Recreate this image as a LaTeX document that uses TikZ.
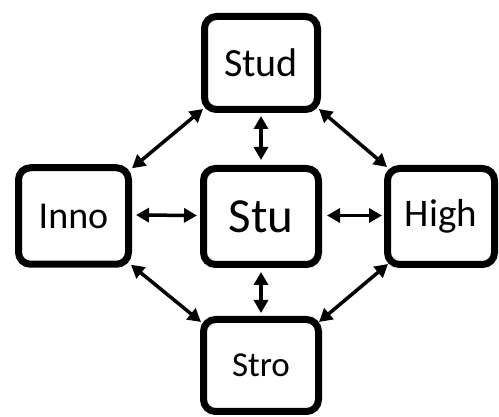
\documentclass[tikz,border=0pt]{standalone}
\usepackage{fontspec}
\setmainfont{Carlito}
\usetikzlibrary{arrows.meta}
\tikzset{
  box/.style={draw=black, line width=7pt, rounded corners=12pt, fill=white,
    inner sep=0pt, align=center},
  link/.style={line width=3.5pt,
    {Triangle[length=13pt,width=14pt]}-{Triangle[length=13pt,width=14pt]}}
}
\begin{document}
\begin{tikzpicture}[x=1pt,y=1pt]
  \useasboundingbox (0,0) rectangle (499,417);

  % the five boxes
  \node[box, minimum width=113pt, minimum height=93pt, font=\fontsize{40}{40}\selectfont]
    (stud) at (261,354) {Stud};
  \node[box, minimum width=110pt, minimum height=96.5pt, font=\fontsize{38}{38}\selectfont]
    (inno) at (73.5,201) {Inno};
  \node[box, minimum width=115pt, minimum height=96pt, font=\fontsize{49}{49}\selectfont]
    (stu) at (261,200.5) {Stu};
  \node[box, minimum width=107pt, minimum height=96pt, font=\fontsize{39}{39}\selectfont]
    (high) at (441,200.5) {High};
  \node[box, minimum width=115pt, minimum height=92pt, font=\fontsize{35}{35}\selectfont]
    (stro) at (261,51.5) {Stro};

  % links to the centre box
  \draw[link, shorten <=3pt, shorten >=5pt] (stud.south) -- (stu.north);
  \draw[link, shorten <=4pt, shorten >=3pt] (stu.south) -- (stro.north);
  \draw[link, shorten <=4pt, shorten >=3pt] ([yshift=1pt]inno.east) -- ([yshift=1pt]stu.west);
  \draw[link, shorten <=5pt, shorten >=2pt] ([yshift=1pt]stu.east) -- ([yshift=1pt]high.west);

  % links around the ring
  \draw[link] ([yshift=-4pt]inno.north east) -- ([xshift=2pt,yshift=4pt]stud.south west);
  \draw[link] ([xshift=-2pt,yshift=4pt]stud.south east) -- ([xshift=3pt,yshift=-2pt]high.north west);
  \draw[link] ([xshift=4pt,yshift=4pt]high.south west) -- ([xshift=-3pt,yshift=-6pt]stro.north east);
  \draw[link] ([xshift=-1pt,yshift=3pt]inno.south east) -- ([xshift=1pt,yshift=-6pt]stro.north west);
\end{tikzpicture}
\end{document}
